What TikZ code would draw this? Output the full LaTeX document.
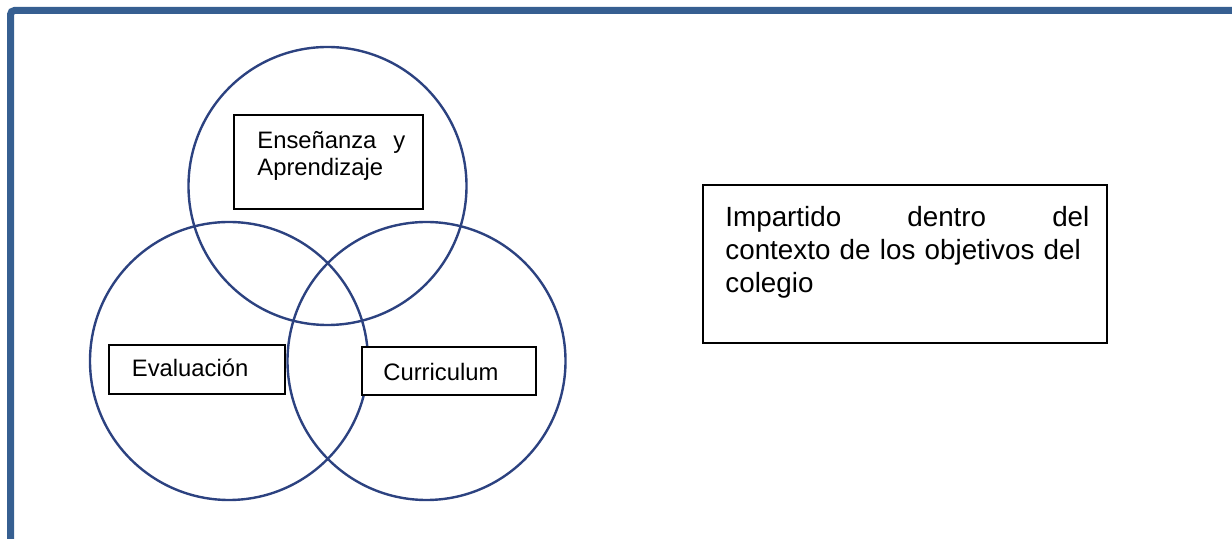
\documentclass[tikz,border=0pt]{standalone}
\usepackage{fontspec}
\setmainfont{Liberation Sans}
\definecolor{framecol}{RGB}{54,95,145}
\definecolor{ringcol}{RGB}{44,66,128}

\begin{document}
\begin{tikzpicture}[x=0.5pt,y=-0.5pt,
  ring/.style={draw=ringcol,line width=1.2pt},
  tagbox/.style={rectangle,draw=black,line width=0.9pt,fill=white,inner sep=0pt},
  tagtext/.style={inner sep=0pt,anchor=base west,font=\fontsize{11.9}{13.5}\selectfont}]
\useasboundingbox (0,0) rectangle (1232,539);
% page frame
\draw[framecol,line width=3.5pt,rounded corners=2pt] (10.5,539) -- (10.5,10.5) -- (1232,10.5);
% the three circles
\coordinate (ctop) at (327.5,186);
\coordinate (cleft) at (229,361);
\coordinate (cright) at (426.5,361);
\draw[ring] (ctop) circle[radius=139];
\draw[ring] (cleft) circle[radius=139];
\draw[ring] (cright) circle[radius=139];
% labels
\node[tagbox,minimum width=94.5pt,minimum height=47pt] (teach) at (328.5,162) {};
\node[tagtext,text width=74pt,align=left] (teachtxt) at (257,149) {Ense\~nanza\hfill y\\Aprendizaje};
\node[tagbox,minimum width=88pt,minimum height=24.5pt] (eval) at (197,369.5) {};
\node[tagtext] (evaltxt) at (131.5,377) {Evaluación};
\node[tagbox,minimum width=87pt,minimum height=24pt] (curr) at (449,371) {};
\node[tagtext] (currtxt) at (383,380.5) {Curriculum};
% context box
\node[tagbox,minimum width=202pt,minimum height=79pt] (ctx) at (905,264) {};
\node[tagtext,text width=182pt,align=left,font=\fontsize{13.9}{16.5}\selectfont] (ctxtxt) at (725,226.5)
  {Impartido\hfill dentro\hfill del\\\mbox{contexto de los objetivos del}\\colegio};
\end{tikzpicture}
\end{document}
